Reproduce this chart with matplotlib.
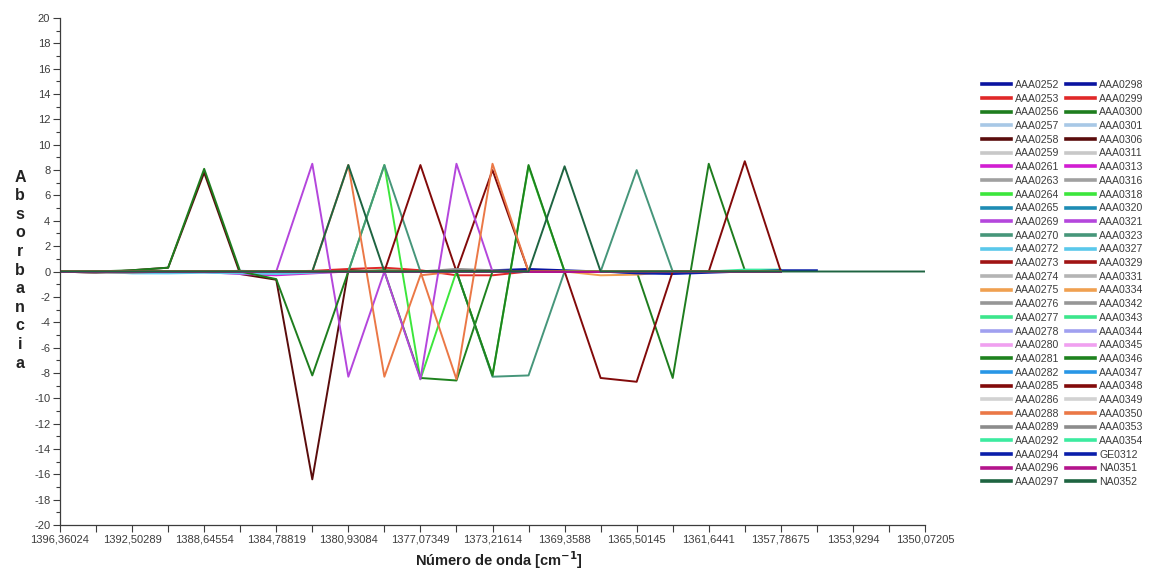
import matplotlib.pyplot as plt
import numpy as np
from matplotlib.ticker import FixedLocator, MultipleLocator

nan = np.nan

#-----------------------------eixo x: número de onda----------------------------
onda = [1396.36024, 1394.43157, 1392.50289, 1390.57422, 1388.64554,
        1386.71687, 1384.78819, 1382.85952, 1380.93084, 1379.00217,
        1377.07349, 1375.14482, 1373.21614, 1371.28747, 1369.35879,
        1367.43012, 1365.50145, 1363.57277, 1361.64410, 1359.71542,
        1357.78675, 1355.85807, 1353.92940, 1352.00072, 1350.07205]

rotulos_x = ["1396,36024", "1392,50289", "1388,64554", "1384,78819",
             "1380,93084", "1377,07349", "1373,21614", "1369,3588",
             "1365,50145", "1361,6441", "1357,78675", "1353,9294",
             "1350,07205"]

#-----------------------------amostras----------------------------
nomes = ["AAA0252", "AAA0253", "AAA0256", "AAA0257", "AAA0258", "AAA0259",
         "AAA0261", "AAA0263", "AAA0264", "AAA0265", "AAA0269", "AAA0270",
         "AAA0272", "AAA0273", "AAA0274", "AAA0275", "AAA0276", "AAA0277",
         "AAA0278", "AAA0280", "AAA0281", "AAA0282", "AAA0285", "AAA0286",
         "AAA0288", "AAA0289", "AAA0292", "AAA0294", "AAA0296", "AAA0297",
         "AAA0298", "AAA0299", "AAA0300", "AAA0301", "AAA0306", "AAA0311",
         "AAA0313", "AAA0316", "AAA0318", "AAA0320", "AAA0321", "AAA0323",
         "AAA0327", "AAA0329", "AAA0331", "AAA0334", "AAA0342", "AAA0343",
         "AAA0344", "AAA0345", "AAA0346", "AAA0347", "AAA0348", "AAA0349",
         "AAA0350", "AAA0353", "AAA0354", "GE0312", "NA0351", "NA0352"]

cores = ["#0a14a0", "#e02828", "#1e7d1e", "#a8c8e6", "#5a0c0c", "#c8c8c8",
         "#d21ed2", "#a0a0a0", "#3ce63c", "#1e8cb4", "#b446dc", "#46967a",
         "#5ac8eb", "#a01414", "#b4b4b4", "#f0a050", "#969696", "#3ce68c",
         "#a0a0f0", "#f0a0f0", "#1e821e", "#2896e6", "#820a0a", "#d2d2d2",
         "#eb7846", "#8c8c8c", "#3ceba0", "#0a1eaa", "#b4148c", "#1e6441"]

# absorbância, um valor por ponto de onda (nan = fora da faixa medida)
base    = [0, 0, 0, 0, 0, 0, 0, 0, 0, 0, 0, 0, 0, 0, 0, 0, 0, 0, 0, 0, 0, nan, nan, nan, nan]
aaa0252 = [0, 0, 0, 0, 0, 0.05, 0, 0, 0, 0, 0, 0, 0.1, 0.2, 0.1, 0, -0.1, -0.1, 0, 0, 0.05, nan, nan, nan, nan]
aaa0253 = [0, 0, 0, 0, 0, 0, 0, 0.05, 0.2, 0.3, 0.1, -0.3, -0.3, 0, 0, 0, 0, 0, 0, 0, 0, nan, nan, nan, nan]
aaa0256 = [0, 0, 0, 0, 0, 0, 0, 0, 0, 0, 0, 0, 0, 0, 0, 0, 0, -8.4, 8.5, 0.1, 0.1, nan, nan, nan, nan]
aaa0258 = [0, -0.1, 0.1, 0.3, 7.8, -0.2, -0.65, -16.4, 0.1, 0, 0, 0, 0, 0, 0, 0, 0, 0, 0, 0, 0, nan, nan, nan, nan]
aaa0261 = [0, 0, 0, 0, -0.05, -0.2, -0.3, -0.15, 0, 0, 0, 0, 0, 0, 0, 0, 0, 0, 0, 0, 0, nan, nan, nan, nan]
aaa0264 = [0, 0, 0, 0, 0, 0, 0, 0, 0, 8.4, -8.5, 0, 0, 0, 0, 0, 0, 0, 0, 0, 0, nan, nan, nan, nan]
aaa0269 = [0, 0, 0, 0, 0, -0.1, 0, 8.5, -8.3, 0, 0, 0, 0, 0, 0, 0, 0, 0, 0, 0, 0, nan, nan, nan, nan]
aaa0270 = [0, 0, 0, 0, 0, 0, 0, 0, 0, 8.4, 0, 0, 0, 0, 0, 0, 0, 0, 0, 0, 0, nan, nan, nan, nan]
aaa0272 = [0, 0, -0.15, -0.15, -0.1, -0.15, -0.2, -0.1, 0, 0, 0, 0, 0, 0, 0, 0, 0, 0, 0, 0, 0, nan, nan, nan, nan]
aaa0275 = [0, 0, 0, 0, 0, 0, 0, 0, 0, 0, 0, 0, 0, 0, 0, -0.3, -0.25, 0, 0, 0, 0, nan, nan, nan, nan]
aaa0281 = [0, 0, 0, 0, 0, 0, 0, 0, 0, 0, -8.4, -8.6, 0, 0, 0, 0, 0, 0, 0, 0, 0, nan, nan, nan, nan]
aaa0285 = [0, 0, 0, 0, 0, 0, 0, 0, 0, 0, 8.4, 0, 8.0, 0, 0, 0, 0, 0, 0, 0, 0, nan, nan, nan, nan]
aaa0288 = [0, 0, 0, 0, 0, 0, 0, 0, 8.4, -8.3, -0.3, 0, 0, 0, 0, 0, 0, 0, 0, 0, 0, nan, nan, nan, nan]
aaa0289 = [0, -0.1, -0.1, 0, 0, 0, 0, 0, 0, 0, 0, 0.2, 0.1, 0, 0, 0, 0, 0, 0, 0, 0, nan, nan, nan, nan]
aaa0292 = [0, 0, 0, 0, 0, 0, 0, 0, 0, 0, 0, 0, 0, 0, 0, 0, 0, 0, 0, 0.15, 0.15, nan, nan, nan, nan]
aaa0294 = [0, 0, 0, 0, 0, 0, 0, 0, 0, 0, 0, 0, 0, 0, 0, 0, -0.15, -0.2, -0.1, 0, 0.1, 0.1, nan, nan, nan]
aaa0297 = [0, 0, 0, 0, 0, 0, 0, 0, 8.4, 0, 0, 0, 0, 0, 0, 0, 0, 0, 0, 0, 0, nan, nan, nan, nan]
aaa0300 = [0, 0, 0.1, 0.3, 8.1, 0, -0.6, -8.2, 0, 0.1, 0, 0, 0, 0, 0, 0, 0, 0, 0, 0, 0, nan, nan, nan, nan]
aaa0318 = [0, 0, 0, 0, 0, 0, 0, 0, 0, 0, 0, 0, -8.2, 8.3, 0, 0, 0, 0, 0, 0, 0, nan, nan, nan, nan]
aaa0321 = [0, 0, 0, 0, 0, 0, 0, 0, 0, 0, -8.5, 8.5, 0, 0, 0, 0, 0, 0, 0, 0, 0, nan, nan, nan, nan]
aaa0323 = [0, 0, 0, 0, 0, 0, 0, 0, 0, 0, 0, 0, -8.3, -8.2, 0, 0, 8.0, 0, 0, 0, 0, nan, nan, nan, nan]
aaa0346 = [0, 0, 0, 0, 0, 0, 0, 0, 0, 0, 0, 0, -8.2, 8.4, 0, 0, 0, 0, 0, 0, 0, nan, nan, nan, nan]
aaa0348 = [0, 0, 0, 0, 0, 0, 0, 0, 0, 0, 0, 0, 0, 0, 0, -8.4, -8.7, 0, 0, 8.7, 0, nan, nan, nan, nan]
aaa0350 = [0, 0, 0, 0, 0, 0, 0, 0, 0, 0, 0, -8.5, 8.5, 0, 0, 0, 0, 0, 0, 0, 0, nan, nan, nan, nan]
na0352  = [0, 0, 0, 0, 0, 0, 0, 0, 0, 0, 0, 0, 0, 0, 8.3, 0, 0, 0, 0, 0, 0, 0, 0, 0, 0]

espectros = {"AAA0252": aaa0252, "AAA0253": aaa0253, "AAA0256": aaa0256,
             "AAA0258": aaa0258, "AAA0261": aaa0261, "AAA0264": aaa0264,
             "AAA0269": aaa0269, "AAA0270": aaa0270, "AAA0272": aaa0272,
             "AAA0275": aaa0275, "AAA0281": aaa0281, "AAA0285": aaa0285,
             "AAA0288": aaa0288, "AAA0289": aaa0289, "AAA0292": aaa0292,
             "AAA0294": aaa0294, "AAA0297": aaa0297, "AAA0300": aaa0300,
             "AAA0318": aaa0318, "AAA0321": aaa0321, "AAA0323": aaa0323,
             "AAA0346": aaa0346, "AAA0348": aaa0348, "AAA0350": aaa0350,
             "NA0352": na0352}

#-----------------------------gráfico----------------------------
plt.rcParams['font.family'] = ['Liberation Sans', 'DejaVu Sans']
plt.rcParams['axes.unicode_minus'] = False
cinza = "#3c3c3c"

fig = plt.figure(figsize=(11.49, 5.72), dpi=100)
ax = fig.add_axes([60 / 1149, 1 - 525 / 572, 865 / 1149, 507 / 572])

for k, nome in enumerate(nomes):
    y = espectros.get(nome, base)
    ax.plot(onda, y, color=cores[k % len(cores)], lw=1.4, label=nome)

ax.set_xlim(onda[0], onda[-1])
ax.set_ylim(-20, 20)

ax.xaxis.set_major_locator(FixedLocator(onda[::2]))
ax.xaxis.set_minor_locator(FixedLocator(onda[1::2]))
ax.set_xticklabels(rotulos_x)
ax.yaxis.set_major_locator(MultipleLocator(2))
ax.yaxis.set_minor_locator(MultipleLocator(1))

ax.tick_params(axis='both', which='both', direction='out', colors=cinza,
               labelsize=8, width=0.8)
ax.tick_params(axis='x', which='both', length=5, pad=2)
ax.tick_params(axis='y', which='major', length=5, pad=2)
ax.tick_params(axis='y', which='minor', length=3)

for lado in ['top', 'right']:
    ax.spines[lado].set_visible(False)
for lado in ['left', 'bottom']:
    ax.spines[lado].set_color(cinza)
    ax.spines[lado].set_linewidth(0.9)

fig.text(499 / 1149, 1 - 560 / 572, r"Número de onda [cm$^{\mathbf{-1}}$]",
         ha='center', va='center', fontsize=10.5, fontweight='bold', color="#222222")
fig.text(20 / 1149, 1 - 270 / 572, "\n".join("Absorbancia"),
         ha='center', va='center', fontsize=11.5, fontweight='bold',
         color="#222222", linespacing=1.3)

leg = ax.legend(ncol=2, loc='upper left', bbox_to_anchor=(982 / 1149, 1 - 80 / 572),
                bbox_transform=fig.transFigure, frameon=False, fontsize=7.6,
                handlelength=2.7, handletextpad=0.4, columnspacing=0.7,
                labelspacing=0.35, borderpad=0, borderaxespad=0)
for t in leg.get_texts():
    t.set_color(cinza)
for h in leg.get_lines():
    h.set_linewidth(2.6)

fig.savefig("out.png", dpi=100)
